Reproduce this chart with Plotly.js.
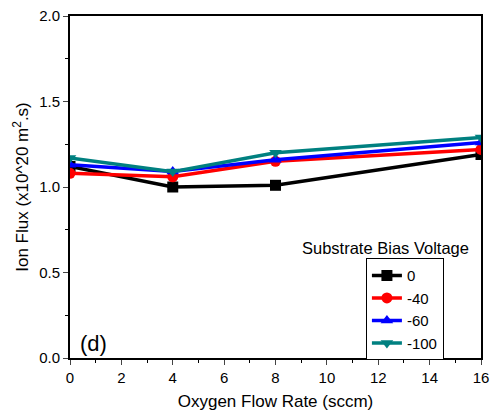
<!DOCTYPE html>
<html>
<head>
<meta charset="utf-8">
<script src="https://cdn.plot.ly/plotly-3.0.1.min.js"></script>
<style>html,body{margin:0;padding:0;background:#fff;}#chart{width:492px;height:413px;}</style>
</head>
<body>
<div id="chart"></div>
<script>
const flowRate = [0, 4, 8, 16];
const seriesNames = ["0", "-40", "-60", "-100"];
const flux0 = [1.12, 1.00, 1.01, 1.19];
const flux40 = [1.08, 1.06, 1.15, 1.22];
const flux60 = [1.13, 1.09, 1.16, 1.26];
const flux100 = [1.17, 1.09, 1.20, 1.29];
const xTickVals = [0, 2, 4, 6, 8, 10, 12, 14, 16];
const yTickVals = [0.0, 0.5, 1.0, 1.5, 2.0];
const yTickText = ["0.0", "0.5", "1.0", "1.5", "2.0"];

const colors = ["#000000", "#ff0000", "#0000ff", "#008080"];
const symbols = ["square", "circle", "triangle-up", "triangle-down"];
const ys = [flux0, flux40, flux60, flux100];

const traces = ys.map((y, i) => ({
  x: flowRate, y: y, name: seriesNames[i], type: "scatter", mode: "lines+markers",
  line: {color: colors[i], width: 3.5},
  marker: {color: colors[i], symbol: symbols[i], size: 11}
}));

const font = {family: "Arial, Liberation Sans, sans-serif", color: "#000"};
const layout = {
  width: 492, height: 413,
  margin: {l: 70, r: 11, t: 16, b: 55},
  paper_bgcolor: "#fff", plot_bgcolor: "#fff",
  font: Object.assign({size: 15}, font),
  showlegend: true,
  legend: {
    x: 0.72, y: 0.292, xanchor: "left", yanchor: "top",
    bordercolor: "#000", borderwidth: 1, bgcolor: "#fff",
    font: Object.assign({size: 15}, font),
    tracegroupgap: 0, itemwidth: 30
  },
  xaxis: {
    range: [0, 16], tickvals: xTickVals, ticks: "outside", ticklen: 5, tickwidth: 1,
    showline: true, linecolor: "#000", linewidth: 2, mirror: true, showgrid: false, zeroline: false,
    minor: {dtick: 1, ticks: "outside", ticklen: 3, tickcolor: "#000"},
    tickfont: Object.assign({size: 15}, font),
    title: {text: "Oxygen Flow Rate (sccm)", font: Object.assign({size: 17}, font), standoff: 10}
  },
  yaxis: {
    range: [0, 2], tickvals: yTickVals, ticktext: yTickText, ticks: "outside", ticklen: 5, tickwidth: 1,
    showline: true, linecolor: "#000", linewidth: 2, mirror: true, showgrid: false, zeroline: false,
    minor: {dtick: 0.25, ticks: "outside", ticklen: 3, tickcolor: "#000"},
    tickfont: Object.assign({size: 15}, font),
    title: {text: "Ion Flux (x10^20 m<sup>2</sup>.s)", font: Object.assign({size: 17}, font), standoff: 6}
  },
  annotations: [
    {text: "Substrate Bias Voltage", xref: "paper", yref: "paper", x: 0.975, y: 0.29,
     xanchor: "right", yanchor: "bottom", showarrow: false, font: Object.assign({size: 16.5}, font)},
    {text: "(d)", xref: "paper", yref: "paper", x: 0.02, y: 0.0,
     xanchor: "left", yanchor: "bottom", showarrow: false, font: Object.assign({size: 22}, font)}
  ]
};
Plotly.newPlot("chart", traces, layout, {displayModeBar: false, staticPlot: true});
</script>
</body>
</html>
